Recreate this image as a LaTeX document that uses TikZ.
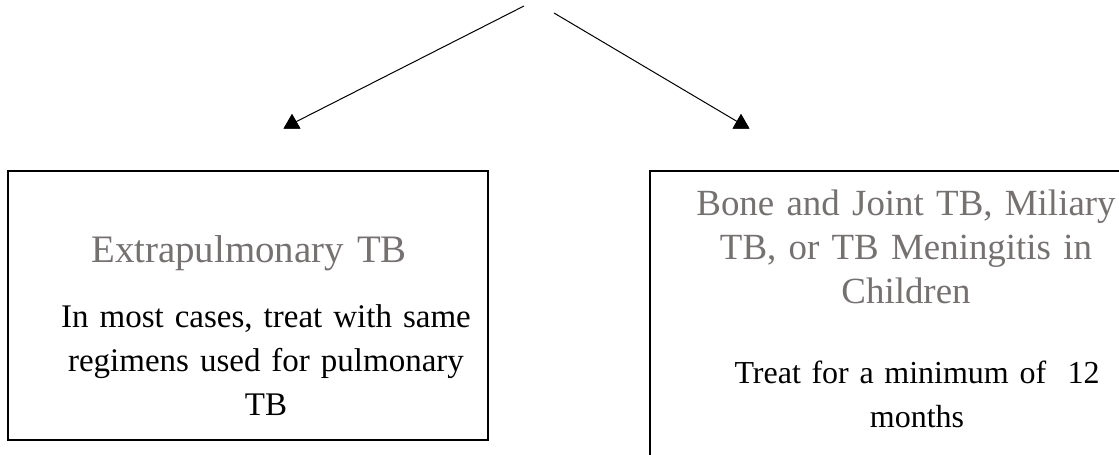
\documentclass[tikz,border=0pt]{standalone}
\usepackage{fontspec}
\setmainfont{Liberation Serif}
\usetikzlibrary{shapes.geometric}
\definecolor{headgray}{RGB}{118,113,113}
\tikzset{
  box/.style={draw=black, line width=1.5pt, fill=none, inner sep=0pt},
  tri/.style={regular polygon, regular polygon sides=3, fill=black, draw=none, inner sep=0pt, minimum size=19.6pt},
  conn/.style={draw=black, line width=1pt},
  head/.style={text=headgray, text width=520pt, align=center, inner sep=0pt, anchor=base, font={\fontsize{38.9}{44}\selectfont}},
  body/.style={text=black, text width=520pt, align=center, inner sep=0pt, anchor=base, font={\fontsize{33}{44}\selectfont}}
}
\begin{document}
\begin{tikzpicture}[x=1pt, y=-1pt]
\useasboundingbox (0,0) rectangle (1119,455);
\clip (0,0) rectangle (1119,455);
\fill[white] (0,0) rectangle (1119,455);
% boxes
\node[box, minimum width=480pt, minimum height=269pt] (L) at (248,305.5) {};
\node[box, minimum width=480pt, minimum height=300pt] (R) at (890,321) {};
% arrows
\coordinate (top1) at (524,6);
\coordinate (top2) at (554,13);
\node[tri] (tL) at (292,123.8) {};
\node[tri] (tR) at (741,123.8) {};
\draw[conn] (top1) -- (tL.center);
\draw[conn] (top2) -- (tR.center);
\node[tri] at (tL.center) {};
\node[tri] at (tR.center) {};
% texts
\node[head] (Lh) at (249,262) {Extrapulmonary TB};
\node[body] (Lb) at (266,327) {In most cases, treat with same\\regimens used for pulmonary\\TB};
\node[head, font={\fontsize{36.9}{44}\selectfont}] (Rh) at (906,215) {Bone and Joint TB, Miliary\\TB, or TB Meningitis in\\Children};
\node[body, font={\fontsize{32}{44}\selectfont}] (Rb) at (917,383) {Treat for a minimum of~ 12\\months};
\end{tikzpicture}
\end{document}
